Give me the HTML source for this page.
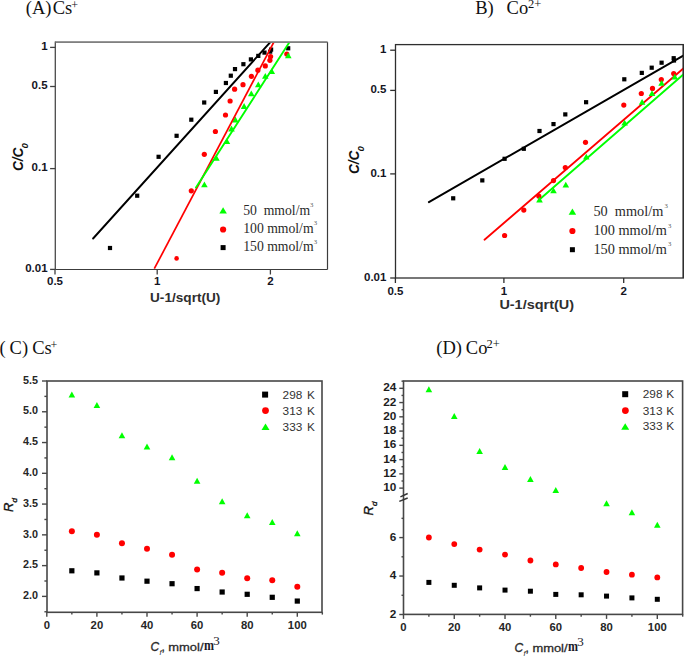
<!DOCTYPE html>
<html><head><meta charset="utf-8"><style>
html,body{margin:0;padding:0;background:#fff;}
body{width:685px;height:659px;overflow:hidden;}
svg{display:block;}
</style></head><body>
<svg width="685" height="659" viewBox="0 0 685 659">
<rect width="685" height="659" fill="#fff"/>
<line x1="55.30" y1="42.10" x2="327.50" y2="42.10" stroke="#6e6e6e" stroke-width="1.4"/>
<line x1="327.50" y1="42.10" x2="327.50" y2="269.50" stroke="#3c3c3c" stroke-width="1.2"/>
<line x1="55.30" y1="269.50" x2="327.50" y2="269.50" stroke="#3c3c3c" stroke-width="1.2"/>
<line x1="55.30" y1="41.50" x2="55.30" y2="270.10" stroke="#4a4a4a" stroke-width="1.3"/>
<line x1="50.10" y1="47.40" x2="55.30" y2="47.40" stroke="#404040" stroke-width="1.3"/>
<text x="47.60" y="50.00" font-family="Liberation Sans" font-size="11.5" font-weight="bold" font-style="normal" fill="#15151f" text-anchor="end" >1</text>
<line x1="50.10" y1="86.50" x2="55.30" y2="86.50" stroke="#404040" stroke-width="1.3"/>
<text x="47.60" y="89.10" font-family="Liberation Sans" font-size="11.5" font-weight="bold" font-style="normal" fill="#15151f" text-anchor="end" >0.5</text>
<line x1="50.10" y1="168.60" x2="55.30" y2="168.60" stroke="#404040" stroke-width="1.3"/>
<text x="47.60" y="171.20" font-family="Liberation Sans" font-size="11.5" font-weight="bold" font-style="normal" fill="#15151f" text-anchor="end" >0.1</text>
<line x1="50.10" y1="269.40" x2="55.30" y2="269.40" stroke="#404040" stroke-width="1.3"/>
<text x="47.60" y="272.00" font-family="Liberation Sans" font-size="11.5" font-weight="bold" font-style="normal" fill="#15151f" text-anchor="end" >0.01</text>
<line x1="55.00" y1="269.50" x2="55.00" y2="274.50" stroke="#404040" stroke-width="1.3"/>
<text x="55.00" y="285.40" font-family="Liberation Sans" font-size="11.5" font-weight="bold" font-style="normal" fill="#15151f" text-anchor="middle" >0.5</text>
<line x1="157.20" y1="269.50" x2="157.20" y2="274.50" stroke="#404040" stroke-width="1.3"/>
<text x="157.20" y="285.40" font-family="Liberation Sans" font-size="11.5" font-weight="bold" font-style="normal" fill="#15151f" text-anchor="middle" >1</text>
<line x1="270.40" y1="269.50" x2="270.40" y2="274.50" stroke="#404040" stroke-width="1.3"/>
<text x="270.40" y="285.40" font-family="Liberation Sans" font-size="11.5" font-weight="bold" font-style="normal" fill="#15151f" text-anchor="middle" >2</text>
<text x="150.00" y="302.00" font-family="Liberation Sans" font-size="13" font-weight="bold" font-style="normal" fill="#2e2e2e" text-anchor="start" textLength="70.4" lengthAdjust="spacingAndGlyphs" >U-1/sqrt(U)</text>
<g transform="translate(23.0,171) rotate(-90)"><text font-family="Liberation Sans" font-size="14.2" font-weight="bold" font-style="italic" fill="#111" textLength="23.4" lengthAdjust="spacingAndGlyphs">C/C</text><text x="22.5" y="4.6" font-family="Liberation Sans" font-size="9.5" font-weight="bold" font-style="italic" fill="#111">0</text></g>
<text x="25.80" y="14.00" font-family="Liberation Serif" font-size="18.5" font-weight="normal" font-style="normal" fill="#111" text-anchor="start" >(A)</text>
<text x="52.70" y="14.00" font-family="Liberation Serif" font-size="18.5" font-weight="normal" font-style="normal" fill="#111" text-anchor="start" >Cs</text>
<text x="71.20" y="9.00" font-family="Liberation Serif" font-size="12" font-weight="normal" font-style="normal" fill="#111" text-anchor="start" >+</text>
<rect x="107.90" y="245.90" width="4.20" height="4.20" fill="#000000"/>
<rect x="135.10" y="193.60" width="4.20" height="4.20" fill="#000000"/>
<rect x="156.50" y="154.70" width="4.20" height="4.20" fill="#000000"/>
<rect x="174.50" y="133.70" width="4.20" height="4.20" fill="#000000"/>
<rect x="189.20" y="117.60" width="4.20" height="4.20" fill="#000000"/>
<rect x="202.10" y="100.40" width="4.20" height="4.20" fill="#000000"/>
<rect x="213.80" y="89.80" width="4.20" height="4.20" fill="#000000"/>
<rect x="223.80" y="80.90" width="4.20" height="4.20" fill="#000000"/>
<rect x="228.70" y="73.60" width="4.20" height="4.20" fill="#000000"/>
<rect x="232.90" y="67.00" width="4.20" height="4.20" fill="#000000"/>
<rect x="241.30" y="62.10" width="4.20" height="4.20" fill="#000000"/>
<rect x="248.80" y="57.30" width="4.20" height="4.20" fill="#000000"/>
<rect x="256.20" y="53.80" width="4.20" height="4.20" fill="#000000"/>
<rect x="262.40" y="50.50" width="4.20" height="4.20" fill="#000000"/>
<rect x="268.10" y="49.50" width="4.20" height="4.20" fill="#000000"/>
<rect x="269.00" y="47.50" width="4.20" height="4.20" fill="#000000"/>
<rect x="286.10" y="46.20" width="4.20" height="4.20" fill="#000000"/>
<circle cx="176.60" cy="258.40" r="2.30" fill="#ff0000"/>
<circle cx="191.30" cy="190.80" r="2.60" fill="#ff0000"/>
<circle cx="204.30" cy="154.30" r="2.60" fill="#ff0000"/>
<circle cx="215.40" cy="131.50" r="2.60" fill="#ff0000"/>
<circle cx="225.50" cy="115.00" r="2.60" fill="#ff0000"/>
<circle cx="230.10" cy="101.00" r="2.60" fill="#ff0000"/>
<circle cx="234.60" cy="89.20" r="2.60" fill="#ff0000"/>
<circle cx="243.00" cy="84.70" r="2.60" fill="#ff0000"/>
<circle cx="251.40" cy="76.30" r="2.60" fill="#ff0000"/>
<circle cx="257.90" cy="70.20" r="2.60" fill="#ff0000"/>
<circle cx="265.30" cy="65.90" r="2.60" fill="#ff0000"/>
<circle cx="269.90" cy="60.30" r="2.60" fill="#ff0000"/>
<circle cx="270.60" cy="56.60" r="2.60" fill="#ff0000"/>
<circle cx="286.80" cy="54.00" r="2.60" fill="#ff0000"/>
<polygon points="204.40,181.40 201.10,187.20 207.70,187.20" fill="#00ff00"/>
<polygon points="216.40,155.00 213.10,160.80 219.70,160.80" fill="#00ff00"/>
<polygon points="226.90,138.20 223.60,144.00 230.20,144.00" fill="#00ff00"/>
<polygon points="231.50,125.60 228.20,131.40 234.80,131.40" fill="#00ff00"/>
<polygon points="235.40,116.60 232.10,122.40 238.70,122.40" fill="#00ff00"/>
<polygon points="244.10,103.10 240.80,108.90 247.40,108.90" fill="#00ff00"/>
<polygon points="251.30,90.50 248.00,96.30 254.60,96.30" fill="#00ff00"/>
<polygon points="258.30,81.50 255.00,87.30 261.60,87.30" fill="#00ff00"/>
<polygon points="265.30,73.00 262.00,78.80 268.60,78.80" fill="#00ff00"/>
<polygon points="271.80,68.20 268.50,74.00 275.10,74.00" fill="#00ff00"/>
<polygon points="288.30,52.40 285.00,58.20 291.60,58.20" fill="#00ff00"/>
<defs><clipPath id="ca"><rect x="55" y="42.6" width="272" height="226.6"/></clipPath></defs><g clip-path="url(#ca)">
<line x1="93.10" y1="238.50" x2="270.60" y2="41.80" stroke="#000000" stroke-width="1.9" stroke-linecap="round"/>
<line x1="154.30" y1="268.70" x2="274.00" y2="41.80" stroke="#ff0000" stroke-width="1.7"/>
<line x1="196.00" y1="187.40" x2="289.70" y2="41.80" stroke="#00ff00" stroke-width="1.9" stroke-linecap="round"/>
</g>
<line x1="55.30" y1="42.10" x2="327.50" y2="42.10" stroke="#7a7a7a" stroke-width="1.4"/>
<polygon points="223.10,207.30 219.35,213.50 226.85,213.50" fill="#00ff00"/>
<circle cx="223.10" cy="229.50" r="3.10" fill="#ff0000"/>
<rect x="220.60" y="245.10" width="5.00" height="5.00" fill="#000000"/>
<text x="243.20" y="214.60" font-family="Liberation Serif" font-size="13.7" font-weight="normal" font-style="normal" fill="#2a2a2a" text-anchor="start" >50&#160; mmol/m</text>
<text x="243.20" y="233.40" font-family="Liberation Serif" font-size="13.7" font-weight="normal" font-style="normal" fill="#2a2a2a" text-anchor="start" >100 mmol/m</text>
<text x="243.20" y="251.40" font-family="Liberation Serif" font-size="13.7" font-weight="normal" font-style="normal" fill="#2a2a2a" text-anchor="start" >150 mmol/m</text>
<text x="310.00" y="206.60" font-family="Liberation Serif" font-size="6.8" font-weight="normal" font-style="normal" fill="#555" text-anchor="start" >3</text>
<text x="313.80" y="225.30" font-family="Liberation Serif" font-size="6.8" font-weight="normal" font-style="normal" fill="#555" text-anchor="start" >3</text>
<text x="313.80" y="243.50" font-family="Liberation Serif" font-size="6.8" font-weight="normal" font-style="normal" fill="#555" text-anchor="start" >3</text>
<rect x="395.5" y="44.6" width="287.79999999999995" height="233.4" fill="none" stroke="#2e2e2e" stroke-width="1.3"/>
<line x1="390.20" y1="50.20" x2="395.50" y2="50.20" stroke="#2e2e2e" stroke-width="1.3"/>
<text x="386.40" y="53.10" font-family="Liberation Sans" font-size="11.5" font-weight="bold" font-style="normal" fill="#15151f" text-anchor="end" >1</text>
<line x1="390.20" y1="90.40" x2="395.50" y2="90.40" stroke="#2e2e2e" stroke-width="1.3"/>
<text x="386.40" y="93.30" font-family="Liberation Sans" font-size="11.5" font-weight="bold" font-style="normal" fill="#15151f" text-anchor="end" >0.5</text>
<line x1="390.20" y1="173.90" x2="395.50" y2="173.90" stroke="#2e2e2e" stroke-width="1.3"/>
<text x="386.40" y="176.80" font-family="Liberation Sans" font-size="11.5" font-weight="bold" font-style="normal" fill="#15151f" text-anchor="end" >0.1</text>
<line x1="390.20" y1="278.00" x2="395.50" y2="278.00" stroke="#2e2e2e" stroke-width="1.3"/>
<text x="386.40" y="280.90" font-family="Liberation Sans" font-size="11.5" font-weight="bold" font-style="normal" fill="#15151f" text-anchor="end" >0.01</text>
<line x1="395.40" y1="278.00" x2="395.40" y2="283.00" stroke="#2e2e2e" stroke-width="1.3"/>
<text x="395.40" y="294.50" font-family="Liberation Sans" font-size="11.5" font-weight="bold" font-style="normal" fill="#15151f" text-anchor="middle" >0.5</text>
<line x1="503.90" y1="278.00" x2="503.90" y2="283.00" stroke="#2e2e2e" stroke-width="1.3"/>
<text x="503.90" y="294.50" font-family="Liberation Sans" font-size="11.5" font-weight="bold" font-style="normal" fill="#15151f" text-anchor="middle" >1</text>
<line x1="623.70" y1="278.00" x2="623.70" y2="283.00" stroke="#2e2e2e" stroke-width="1.3"/>
<text x="623.70" y="294.50" font-family="Liberation Sans" font-size="11.5" font-weight="bold" font-style="normal" fill="#15151f" text-anchor="middle" >2</text>
<text x="499.40" y="309.40" font-family="Liberation Sans" font-size="13.2" font-weight="bold" font-style="normal" fill="#2e2e2e" text-anchor="start" textLength="74.6" lengthAdjust="spacingAndGlyphs" >U-1/sqrt(U)</text>
<g transform="translate(359.1,174) rotate(-90)"><text font-family="Liberation Sans" font-size="14.2" font-weight="bold" font-style="italic" fill="#111" textLength="23.4" lengthAdjust="spacingAndGlyphs">C/C</text><text x="22.5" y="4.6" font-family="Liberation Sans" font-size="9.5" font-weight="bold" font-style="italic" fill="#111">0</text></g>
<text x="475.20" y="14.00" font-family="Liberation Serif" font-size="18.5" font-weight="normal" font-style="normal" fill="#111" text-anchor="start" >B)</text>
<text x="506.60" y="14.00" font-family="Liberation Serif" font-size="18.5" font-weight="normal" font-style="normal" fill="#111" text-anchor="start" >Co</text>
<text x="527.90" y="7.90" font-family="Liberation Serif" font-size="12.5" font-weight="normal" font-style="normal" fill="#111" text-anchor="start" >2+</text>
<defs><clipPath id="cb"><rect x="395" y="44" width="288.3" height="234"/></clipPath></defs><g clip-path="url(#cb)">
<line x1="428.90" y1="202.10" x2="683.30" y2="55.70" stroke="#000000" stroke-width="2.0" stroke-linecap="round"/>
<line x1="484.50" y1="239.70" x2="683.30" y2="68.50" stroke="#ff0000" stroke-width="1.8" stroke-linecap="round"/>
<line x1="539.20" y1="199.80" x2="683.30" y2="74.50" stroke="#00ff00" stroke-width="1.9" stroke-linecap="round"/>
</g>
<rect x="451.10" y="196.20" width="4.20" height="4.20" fill="#000000"/>
<rect x="480.20" y="178.30" width="4.20" height="4.20" fill="#000000"/>
<rect x="502.50" y="156.70" width="4.20" height="4.20" fill="#000000"/>
<rect x="521.70" y="146.70" width="4.20" height="4.20" fill="#000000"/>
<rect x="537.40" y="128.90" width="4.20" height="4.20" fill="#000000"/>
<rect x="551.40" y="122.00" width="4.20" height="4.20" fill="#000000"/>
<rect x="563.20" y="112.30" width="4.20" height="4.20" fill="#000000"/>
<rect x="584.00" y="100.10" width="4.20" height="4.20" fill="#000000"/>
<rect x="622.20" y="77.20" width="4.20" height="4.20" fill="#000000"/>
<rect x="639.70" y="70.80" width="4.20" height="4.20" fill="#000000"/>
<rect x="649.60" y="65.60" width="4.20" height="4.20" fill="#000000"/>
<rect x="659.50" y="60.60" width="4.20" height="4.20" fill="#000000"/>
<rect x="671.60" y="56.10" width="4.20" height="4.20" fill="#000000"/>
<rect x="671.90" y="58.40" width="4.20" height="4.20" fill="#000000"/>
<circle cx="504.60" cy="235.50" r="2.60" fill="#ff0000"/>
<circle cx="523.80" cy="210.10" r="2.60" fill="#ff0000"/>
<circle cx="538.80" cy="196.10" r="2.60" fill="#ff0000"/>
<circle cx="553.50" cy="180.60" r="2.60" fill="#ff0000"/>
<circle cx="565.30" cy="167.50" r="2.60" fill="#ff0000"/>
<circle cx="585.50" cy="142.30" r="2.60" fill="#ff0000"/>
<circle cx="623.80" cy="105.10" r="2.60" fill="#ff0000"/>
<circle cx="641.30" cy="93.50" r="2.60" fill="#ff0000"/>
<circle cx="652.50" cy="88.40" r="2.60" fill="#ff0000"/>
<circle cx="661.30" cy="79.60" r="2.60" fill="#ff0000"/>
<circle cx="673.70" cy="73.60" r="2.60" fill="#ff0000"/>
<polygon points="539.50,196.60 536.20,202.40 542.80,202.40" fill="#00ff00"/>
<polygon points="553.50,187.50 550.20,193.30 556.80,193.30" fill="#00ff00"/>
<polygon points="565.80,181.70 562.50,187.50 569.10,187.50" fill="#00ff00"/>
<polygon points="586.30,153.80 583.00,159.60 589.60,159.60" fill="#00ff00"/>
<polygon points="624.60,119.70 621.30,125.50 627.90,125.50" fill="#00ff00"/>
<polygon points="642.10,99.00 638.80,104.80 645.40,104.80" fill="#00ff00"/>
<polygon points="652.00,90.30 648.70,96.10 655.30,96.10" fill="#00ff00"/>
<polygon points="661.60,79.90 658.30,85.70 664.90,85.70" fill="#00ff00"/>
<polygon points="674.80,73.80 671.50,79.60 678.10,79.60" fill="#00ff00"/>
<line x1="683.30" y1="44.60" x2="683.30" y2="278.00" stroke="#2e2e2e" stroke-width="1.3"/>
<polygon points="572.40,208.50 568.65,214.70 576.15,214.70" fill="#00ff00"/>
<circle cx="572.40" cy="231.00" r="3.10" fill="#ff0000"/>
<rect x="569.90" y="247.20" width="5.00" height="5.00" fill="#000000"/>
<text x="593.40" y="215.60" font-family="Liberation Serif" font-size="14.3" font-weight="normal" font-style="normal" fill="#2a2a2a" text-anchor="start" >50&#160; mmol/m</text>
<text x="593.40" y="235.20" font-family="Liberation Serif" font-size="14.3" font-weight="normal" font-style="normal" fill="#2a2a2a" text-anchor="start" >100 mmol/m</text>
<text x="593.40" y="253.60" font-family="Liberation Serif" font-size="14.3" font-weight="normal" font-style="normal" fill="#2a2a2a" text-anchor="start" >150 mmol/m</text>
<text x="664.40" y="207.80" font-family="Liberation Serif" font-size="6.8" font-weight="normal" font-style="normal" fill="#555" text-anchor="start" >3</text>
<text x="667.90" y="227.80" font-family="Liberation Serif" font-size="6.8" font-weight="normal" font-style="normal" fill="#555" text-anchor="start" >3</text>
<text x="667.90" y="245.90" font-family="Liberation Serif" font-size="6.8" font-weight="normal" font-style="normal" fill="#555" text-anchor="start" >3</text>
<rect x="47" y="381" width="275" height="231.29999999999995" fill="none" stroke="#474747" stroke-width="1.6"/>
<line x1="42.00" y1="381.00" x2="47.00" y2="381.00" stroke="#474747" stroke-width="1.4"/>
<text x="37.90" y="383.70" font-family="Liberation Sans" font-size="10.8" font-weight="bold" font-style="normal" fill="#262626" text-anchor="end" >5.5</text>
<line x1="44.40" y1="396.38" x2="47.00" y2="396.38" stroke="#474747" stroke-width="1.4"/>
<line x1="42.00" y1="411.77" x2="47.00" y2="411.77" stroke="#474747" stroke-width="1.4"/>
<text x="37.90" y="414.47" font-family="Liberation Sans" font-size="10.8" font-weight="bold" font-style="normal" fill="#262626" text-anchor="end" >5.0</text>
<line x1="44.40" y1="427.15" x2="47.00" y2="427.15" stroke="#474747" stroke-width="1.4"/>
<line x1="42.00" y1="442.54" x2="47.00" y2="442.54" stroke="#474747" stroke-width="1.4"/>
<text x="37.90" y="445.24" font-family="Liberation Sans" font-size="10.8" font-weight="bold" font-style="normal" fill="#262626" text-anchor="end" >4.5</text>
<line x1="44.40" y1="457.93" x2="47.00" y2="457.93" stroke="#474747" stroke-width="1.4"/>
<line x1="42.00" y1="473.31" x2="47.00" y2="473.31" stroke="#474747" stroke-width="1.4"/>
<text x="37.90" y="476.01" font-family="Liberation Sans" font-size="10.8" font-weight="bold" font-style="normal" fill="#262626" text-anchor="end" >4.0</text>
<line x1="44.40" y1="488.69" x2="47.00" y2="488.69" stroke="#474747" stroke-width="1.4"/>
<line x1="42.00" y1="504.08" x2="47.00" y2="504.08" stroke="#474747" stroke-width="1.4"/>
<text x="37.90" y="506.78" font-family="Liberation Sans" font-size="10.8" font-weight="bold" font-style="normal" fill="#262626" text-anchor="end" >3.5</text>
<line x1="44.40" y1="519.47" x2="47.00" y2="519.47" stroke="#474747" stroke-width="1.4"/>
<line x1="42.00" y1="534.85" x2="47.00" y2="534.85" stroke="#474747" stroke-width="1.4"/>
<text x="37.90" y="537.55" font-family="Liberation Sans" font-size="10.8" font-weight="bold" font-style="normal" fill="#262626" text-anchor="end" >3.0</text>
<line x1="44.40" y1="550.24" x2="47.00" y2="550.24" stroke="#474747" stroke-width="1.4"/>
<line x1="42.00" y1="565.62" x2="47.00" y2="565.62" stroke="#474747" stroke-width="1.4"/>
<text x="37.90" y="568.32" font-family="Liberation Sans" font-size="10.8" font-weight="bold" font-style="normal" fill="#262626" text-anchor="end" >2.5</text>
<line x1="44.40" y1="581.00" x2="47.00" y2="581.00" stroke="#474747" stroke-width="1.4"/>
<line x1="42.00" y1="596.39" x2="47.00" y2="596.39" stroke="#474747" stroke-width="1.4"/>
<text x="37.90" y="599.09" font-family="Liberation Sans" font-size="10.8" font-weight="bold" font-style="normal" fill="#262626" text-anchor="end" >2.0</text>
<line x1="44.40" y1="611.77" x2="47.00" y2="611.77" stroke="#474747" stroke-width="1.4"/>
<line x1="46.80" y1="612.30" x2="46.80" y2="616.80" stroke="#474747" stroke-width="1.4"/>
<text x="46.80" y="628.60" font-family="Liberation Sans" font-size="11.3" font-weight="bold" font-style="normal" fill="#262626" text-anchor="middle" >0</text>
<line x1="71.85" y1="612.30" x2="71.85" y2="614.60" stroke="#474747" stroke-width="1.4"/>
<line x1="96.90" y1="612.30" x2="96.90" y2="616.80" stroke="#474747" stroke-width="1.4"/>
<text x="96.90" y="628.60" font-family="Liberation Sans" font-size="11.3" font-weight="bold" font-style="normal" fill="#262626" text-anchor="middle" >20</text>
<line x1="121.95" y1="612.30" x2="121.95" y2="614.60" stroke="#474747" stroke-width="1.4"/>
<line x1="147.00" y1="612.30" x2="147.00" y2="616.80" stroke="#474747" stroke-width="1.4"/>
<text x="147.00" y="628.60" font-family="Liberation Sans" font-size="11.3" font-weight="bold" font-style="normal" fill="#262626" text-anchor="middle" >40</text>
<line x1="172.05" y1="612.30" x2="172.05" y2="614.60" stroke="#474747" stroke-width="1.4"/>
<line x1="197.10" y1="612.30" x2="197.10" y2="616.80" stroke="#474747" stroke-width="1.4"/>
<text x="197.10" y="628.60" font-family="Liberation Sans" font-size="11.3" font-weight="bold" font-style="normal" fill="#262626" text-anchor="middle" >60</text>
<line x1="222.15" y1="612.30" x2="222.15" y2="614.60" stroke="#474747" stroke-width="1.4"/>
<line x1="247.20" y1="612.30" x2="247.20" y2="616.80" stroke="#474747" stroke-width="1.4"/>
<text x="247.20" y="628.60" font-family="Liberation Sans" font-size="11.3" font-weight="bold" font-style="normal" fill="#262626" text-anchor="middle" >80</text>
<line x1="272.25" y1="612.30" x2="272.25" y2="614.60" stroke="#474747" stroke-width="1.4"/>
<line x1="297.30" y1="612.30" x2="297.30" y2="616.80" stroke="#474747" stroke-width="1.4"/>
<text x="297.30" y="628.60" font-family="Liberation Sans" font-size="11.3" font-weight="bold" font-style="normal" fill="#262626" text-anchor="middle" >100</text>
<line x1="322.35" y1="612.30" x2="322.35" y2="614.60" stroke="#474747" stroke-width="1.4"/>
<text x="150.50" y="651.20" font-family="Liberation Sans" font-size="12" font-weight="normal" font-style="italic" fill="#2a2a2a" text-anchor="start" stroke="#2a2a2a" stroke-width="0.3">C</text>
<text x="159.40" y="655.40" font-family="Liberation Sans" font-size="7.5" font-weight="normal" font-style="italic" fill="#2a2a2a" text-anchor="start" >f</text>
<text x="161.40" y="651.00" font-family="Liberation Sans" font-size="12" font-weight="normal" font-style="normal" fill="#2a2a2a" text-anchor="start" stroke="#2a2a2a" stroke-width="0.3">,</text>
<text x="168.30" y="651.30" font-family="Liberation Sans" font-size="11.6" font-weight="normal" font-style="normal" fill="#2a2a2a" text-anchor="start" textLength="35.2" lengthAdjust="spacingAndGlyphs" stroke="#2a2a2a" stroke-width="0.3">mmol/</text>
<text x="204.00" y="650.00" font-family="Liberation Serif" font-size="14" font-weight="bold" font-style="normal" fill="#1a1a2a" text-anchor="start" textLength="10.0" lengthAdjust="spacingAndGlyphs" >m</text>
<text x="213.20" y="645.00" font-family="Liberation Serif" font-size="13" font-weight="normal" font-style="normal" fill="#1a1a2a" text-anchor="start" >3</text>
<g transform="translate(13.2,512) rotate(-90)"><text font-family="Liberation Sans" font-size="13" font-style="italic" fill="#111" stroke="#111" stroke-width="0.35">R<tspan font-size="8" dy="4">d</tspan></text></g>
<text x="-0.50" y="353.80" font-family="Liberation Serif" font-size="18.5" font-weight="normal" font-style="normal" fill="#111" text-anchor="start" >(</text>
<text x="9.60" y="353.80" font-family="Liberation Serif" font-size="18.5" font-weight="normal" font-style="normal" fill="#111" text-anchor="start" >C)</text>
<text x="32.20" y="353.80" font-family="Liberation Serif" font-size="18.5" font-weight="normal" font-style="normal" fill="#111" text-anchor="start" >Cs</text>
<text x="50.60" y="349.00" font-family="Liberation Serif" font-size="12" font-weight="normal" font-style="normal" fill="#111" text-anchor="start" >+</text>
<rect x="69.25" y="568.19" width="5.20" height="5.20" fill="#000000"/>
<circle cx="71.85" cy="531.16" r="3.00" fill="#ff0000"/>
<polygon points="71.85,391.60 68.55,397.60 75.15,397.60" fill="#00ff00"/>
<rect x="94.30" y="570.28" width="5.20" height="5.20" fill="#000000"/>
<circle cx="96.90" cy="534.85" r="3.00" fill="#ff0000"/>
<polygon points="96.90,401.88 93.60,407.88 100.20,407.88" fill="#00ff00"/>
<rect x="119.35" y="575.39" width="5.20" height="5.20" fill="#000000"/>
<circle cx="121.95" cy="543.34" r="3.00" fill="#ff0000"/>
<polygon points="121.95,432.16 118.65,438.16 125.25,438.16" fill="#00ff00"/>
<rect x="144.40" y="578.59" width="5.20" height="5.20" fill="#000000"/>
<circle cx="147.00" cy="548.63" r="3.00" fill="#ff0000"/>
<polygon points="147.00,443.54 143.70,449.54 150.30,449.54" fill="#00ff00"/>
<rect x="169.45" y="581.11" width="5.20" height="5.20" fill="#000000"/>
<circle cx="172.05" cy="554.79" r="3.00" fill="#ff0000"/>
<polygon points="172.05,454.19 168.75,460.19 175.35,460.19" fill="#00ff00"/>
<rect x="194.50" y="585.97" width="5.20" height="5.20" fill="#000000"/>
<circle cx="197.10" cy="569.62" r="3.00" fill="#ff0000"/>
<polygon points="197.10,477.63 193.80,483.63 200.40,483.63" fill="#00ff00"/>
<rect x="219.55" y="589.42" width="5.20" height="5.20" fill="#000000"/>
<circle cx="222.15" cy="572.64" r="3.00" fill="#ff0000"/>
<polygon points="222.15,498.31 218.85,504.31 225.45,504.31" fill="#00ff00"/>
<rect x="244.60" y="591.70" width="5.20" height="5.20" fill="#000000"/>
<circle cx="247.20" cy="578.30" r="3.00" fill="#ff0000"/>
<polygon points="247.20,512.16 243.90,518.16 250.50,518.16" fill="#00ff00"/>
<rect x="269.65" y="594.71" width="5.20" height="5.20" fill="#000000"/>
<circle cx="272.25" cy="580.20" r="3.00" fill="#ff0000"/>
<polygon points="272.25,519.05 268.95,525.05 275.55,525.05" fill="#00ff00"/>
<rect x="294.70" y="598.47" width="5.20" height="5.20" fill="#000000"/>
<circle cx="297.30" cy="586.73" r="3.00" fill="#ff0000"/>
<polygon points="297.30,530.25 294.00,536.25 300.60,536.25" fill="#00ff00"/>
<rect x="262.10" y="391.60" width="6.00" height="6.00" fill="#000000"/>
<circle cx="265.50" cy="410.60" r="3.40" fill="#ff0000"/>
<polygon points="265.50,423.50 261.50,429.90 269.50,429.90" fill="#00ff00"/>
<text x="282.60" y="398.50" font-family="Liberation Sans" font-size="11.8" font-weight="normal" font-style="normal" fill="#333" text-anchor="start" word-spacing="1.5">298 K</text>
<text x="282.60" y="414.50" font-family="Liberation Sans" font-size="11.8" font-weight="normal" font-style="normal" fill="#333" text-anchor="start" word-spacing="1.5">313 K</text>
<text x="282.60" y="430.50" font-family="Liberation Sans" font-size="11.8" font-weight="normal" font-style="normal" fill="#333" text-anchor="start" word-spacing="1.5">333 K</text>
<rect x="403.5" y="381" width="279.1" height="233.39999999999998" fill="none" stroke="#474747" stroke-width="1.6"/>
<line x1="400.40" y1="496.90" x2="407.70" y2="493.50" stroke="#333" stroke-width="1.4"/>
<line x1="399.30" y1="501.40" x2="407.70" y2="498.00" stroke="#333" stroke-width="1.4"/>
<line x1="399.30" y1="488.12" x2="403.50" y2="488.12" stroke="#474747" stroke-width="1.4"/>
<text x="396.30" y="491.12" font-family="Liberation Sans" font-size="11.8" font-weight="bold" font-style="normal" fill="#1e1e1e" text-anchor="end" >10</text>
<line x1="401.50" y1="480.99" x2="403.50" y2="480.99" stroke="#474747" stroke-width="1.4"/>
<line x1="399.30" y1="473.86" x2="403.50" y2="473.86" stroke="#474747" stroke-width="1.4"/>
<text x="396.30" y="476.86" font-family="Liberation Sans" font-size="11.8" font-weight="bold" font-style="normal" fill="#1e1e1e" text-anchor="end" >12</text>
<line x1="401.50" y1="466.73" x2="403.50" y2="466.73" stroke="#474747" stroke-width="1.4"/>
<line x1="399.30" y1="459.60" x2="403.50" y2="459.60" stroke="#474747" stroke-width="1.4"/>
<text x="396.30" y="462.60" font-family="Liberation Sans" font-size="11.8" font-weight="bold" font-style="normal" fill="#1e1e1e" text-anchor="end" >14</text>
<line x1="401.50" y1="452.47" x2="403.50" y2="452.47" stroke="#474747" stroke-width="1.4"/>
<line x1="399.30" y1="445.34" x2="403.50" y2="445.34" stroke="#474747" stroke-width="1.4"/>
<text x="396.30" y="448.34" font-family="Liberation Sans" font-size="11.8" font-weight="bold" font-style="normal" fill="#1e1e1e" text-anchor="end" >16</text>
<line x1="401.50" y1="438.21" x2="403.50" y2="438.21" stroke="#474747" stroke-width="1.4"/>
<line x1="399.30" y1="431.08" x2="403.50" y2="431.08" stroke="#474747" stroke-width="1.4"/>
<text x="396.30" y="434.08" font-family="Liberation Sans" font-size="11.8" font-weight="bold" font-style="normal" fill="#1e1e1e" text-anchor="end" >18</text>
<line x1="401.50" y1="423.95" x2="403.50" y2="423.95" stroke="#474747" stroke-width="1.4"/>
<line x1="399.30" y1="416.82" x2="403.50" y2="416.82" stroke="#474747" stroke-width="1.4"/>
<text x="396.30" y="419.82" font-family="Liberation Sans" font-size="11.8" font-weight="bold" font-style="normal" fill="#1e1e1e" text-anchor="end" >20</text>
<line x1="401.50" y1="409.69" x2="403.50" y2="409.69" stroke="#474747" stroke-width="1.4"/>
<line x1="399.30" y1="402.56" x2="403.50" y2="402.56" stroke="#474747" stroke-width="1.4"/>
<text x="396.30" y="405.56" font-family="Liberation Sans" font-size="11.8" font-weight="bold" font-style="normal" fill="#1e1e1e" text-anchor="end" >22</text>
<line x1="401.50" y1="395.43" x2="403.50" y2="395.43" stroke="#474747" stroke-width="1.4"/>
<line x1="399.30" y1="388.30" x2="403.50" y2="388.30" stroke="#474747" stroke-width="1.4"/>
<text x="396.30" y="391.30" font-family="Liberation Sans" font-size="11.8" font-weight="bold" font-style="normal" fill="#1e1e1e" text-anchor="end" >24</text>
<line x1="401.50" y1="381.17" x2="403.50" y2="381.17" stroke="#474747" stroke-width="1.4"/>
<line x1="399.30" y1="614.50" x2="403.50" y2="614.50" stroke="#474747" stroke-width="1.4"/>
<text x="396.30" y="617.50" font-family="Liberation Sans" font-size="11.8" font-weight="bold" font-style="normal" fill="#1e1e1e" text-anchor="end" >2</text>
<line x1="401.50" y1="595.27" x2="403.50" y2="595.27" stroke="#474747" stroke-width="1.4"/>
<line x1="399.30" y1="576.04" x2="403.50" y2="576.04" stroke="#474747" stroke-width="1.4"/>
<text x="396.30" y="579.04" font-family="Liberation Sans" font-size="11.8" font-weight="bold" font-style="normal" fill="#1e1e1e" text-anchor="end" >4</text>
<line x1="401.50" y1="556.81" x2="403.50" y2="556.81" stroke="#474747" stroke-width="1.4"/>
<line x1="399.30" y1="537.58" x2="403.50" y2="537.58" stroke="#474747" stroke-width="1.4"/>
<text x="396.30" y="540.58" font-family="Liberation Sans" font-size="11.8" font-weight="bold" font-style="normal" fill="#1e1e1e" text-anchor="end" >6</text>
<line x1="401.50" y1="518.35" x2="403.50" y2="518.35" stroke="#474747" stroke-width="1.4"/>
<line x1="403.50" y1="614.40" x2="403.50" y2="618.90" stroke="#474747" stroke-width="1.4"/>
<text x="403.50" y="630.60" font-family="Liberation Sans" font-size="11.3" font-weight="bold" font-style="normal" fill="#262626" text-anchor="middle" >0</text>
<line x1="428.88" y1="614.40" x2="428.88" y2="616.70" stroke="#474747" stroke-width="1.4"/>
<line x1="454.26" y1="614.40" x2="454.26" y2="618.90" stroke="#474747" stroke-width="1.4"/>
<text x="454.26" y="630.60" font-family="Liberation Sans" font-size="11.3" font-weight="bold" font-style="normal" fill="#262626" text-anchor="middle" >20</text>
<line x1="479.64" y1="614.40" x2="479.64" y2="616.70" stroke="#474747" stroke-width="1.4"/>
<line x1="505.02" y1="614.40" x2="505.02" y2="618.90" stroke="#474747" stroke-width="1.4"/>
<text x="505.02" y="630.60" font-family="Liberation Sans" font-size="11.3" font-weight="bold" font-style="normal" fill="#262626" text-anchor="middle" >40</text>
<line x1="530.40" y1="614.40" x2="530.40" y2="616.70" stroke="#474747" stroke-width="1.4"/>
<line x1="555.78" y1="614.40" x2="555.78" y2="618.90" stroke="#474747" stroke-width="1.4"/>
<text x="555.78" y="630.60" font-family="Liberation Sans" font-size="11.3" font-weight="bold" font-style="normal" fill="#262626" text-anchor="middle" >60</text>
<line x1="581.16" y1="614.40" x2="581.16" y2="616.70" stroke="#474747" stroke-width="1.4"/>
<line x1="606.54" y1="614.40" x2="606.54" y2="618.90" stroke="#474747" stroke-width="1.4"/>
<text x="606.54" y="630.60" font-family="Liberation Sans" font-size="11.3" font-weight="bold" font-style="normal" fill="#262626" text-anchor="middle" >80</text>
<line x1="631.92" y1="614.40" x2="631.92" y2="616.70" stroke="#474747" stroke-width="1.4"/>
<line x1="657.30" y1="614.40" x2="657.30" y2="618.90" stroke="#474747" stroke-width="1.4"/>
<text x="657.30" y="630.60" font-family="Liberation Sans" font-size="11.3" font-weight="bold" font-style="normal" fill="#262626" text-anchor="middle" >100</text>
<line x1="682.68" y1="614.40" x2="682.68" y2="616.70" stroke="#474747" stroke-width="1.4"/>
<text x="514.60" y="651.70" font-family="Liberation Sans" font-size="12" font-weight="normal" font-style="italic" fill="#2a2a2a" text-anchor="start" stroke="#2a2a2a" stroke-width="0.3">C</text>
<text x="523.50" y="655.90" font-family="Liberation Sans" font-size="7.5" font-weight="normal" font-style="italic" fill="#2a2a2a" text-anchor="start" >f</text>
<text x="525.50" y="651.50" font-family="Liberation Sans" font-size="12" font-weight="normal" font-style="normal" fill="#2a2a2a" text-anchor="start" stroke="#2a2a2a" stroke-width="0.3">,</text>
<text x="532.40" y="651.80" font-family="Liberation Sans" font-size="11.6" font-weight="normal" font-style="normal" fill="#2a2a2a" text-anchor="start" textLength="35.2" lengthAdjust="spacingAndGlyphs" stroke="#2a2a2a" stroke-width="0.3">mmol/</text>
<text x="568.10" y="650.50" font-family="Liberation Serif" font-size="14" font-weight="bold" font-style="normal" fill="#1a1a2a" text-anchor="start" textLength="10.0" lengthAdjust="spacingAndGlyphs" >m</text>
<text x="577.30" y="645.50" font-family="Liberation Serif" font-size="13" font-weight="normal" font-style="normal" fill="#1a1a2a" text-anchor="start" >3</text>
<g transform="translate(372.5,515.5) rotate(-90)"><text font-family="Liberation Sans" font-size="13" font-style="italic" fill="#111" stroke="#111" stroke-width="0.35">R<tspan font-size="8" dy="4">d</tspan></text></g>
<text x="436.30" y="353.80" font-family="Liberation Serif" font-size="18.5" font-weight="normal" font-style="normal" fill="#111" text-anchor="start" >(D)</text>
<text x="465.80" y="353.80" font-family="Liberation Serif" font-size="18.5" font-weight="normal" font-style="normal" fill="#111" text-anchor="start" >Co</text>
<text x="486.60" y="347.90" font-family="Liberation Serif" font-size="12.5" font-weight="normal" font-style="normal" fill="#111" text-anchor="start" >2+</text>
<rect x="426.38" y="579.90" width="5.00" height="5.00" fill="#000000"/>
<rect x="451.76" y="582.80" width="5.00" height="5.00" fill="#000000"/>
<rect x="477.14" y="585.40" width="5.00" height="5.00" fill="#000000"/>
<rect x="502.52" y="587.60" width="5.00" height="5.00" fill="#000000"/>
<rect x="527.90" y="588.70" width="5.00" height="5.00" fill="#000000"/>
<rect x="553.28" y="591.90" width="5.00" height="5.00" fill="#000000"/>
<rect x="578.66" y="592.30" width="5.00" height="5.00" fill="#000000"/>
<rect x="604.04" y="593.60" width="5.00" height="5.00" fill="#000000"/>
<rect x="629.42" y="595.40" width="5.00" height="5.00" fill="#000000"/>
<rect x="654.80" y="596.80" width="5.00" height="5.00" fill="#000000"/>
<circle cx="428.88" cy="537.50" r="2.90" fill="#ff0000"/>
<circle cx="454.26" cy="544.10" r="2.90" fill="#ff0000"/>
<circle cx="479.64" cy="549.60" r="2.90" fill="#ff0000"/>
<circle cx="505.02" cy="554.60" r="2.90" fill="#ff0000"/>
<circle cx="530.40" cy="560.50" r="2.90" fill="#ff0000"/>
<circle cx="555.78" cy="564.40" r="2.90" fill="#ff0000"/>
<circle cx="581.16" cy="568.00" r="2.90" fill="#ff0000"/>
<circle cx="606.54" cy="572.00" r="2.90" fill="#ff0000"/>
<circle cx="631.92" cy="574.70" r="2.90" fill="#ff0000"/>
<circle cx="657.30" cy="577.40" r="2.90" fill="#ff0000"/>
<polygon points="428.88,386.20 425.58,392.20 432.18,392.20" fill="#00ff00"/>
<polygon points="454.26,412.90 450.96,418.90 457.56,418.90" fill="#00ff00"/>
<polygon points="479.64,447.90 476.34,453.90 482.94,453.90" fill="#00ff00"/>
<polygon points="505.02,464.10 501.72,470.10 508.32,470.10" fill="#00ff00"/>
<polygon points="530.40,476.00 527.10,482.00 533.70,482.00" fill="#00ff00"/>
<polygon points="555.78,487.10 552.48,493.10 559.08,493.10" fill="#00ff00"/>
<polygon points="606.54,500.30 603.24,506.30 609.84,506.30" fill="#00ff00"/>
<polygon points="631.92,509.20 628.62,515.20 635.22,515.20" fill="#00ff00"/>
<polygon points="657.30,521.70 654.00,527.70 660.60,527.70" fill="#00ff00"/>
<rect x="622.20" y="391.20" width="6.00" height="6.00" fill="#000000"/>
<circle cx="625.40" cy="410.60" r="3.40" fill="#ff0000"/>
<polygon points="625.20,423.30 621.20,429.70 629.20,429.70" fill="#00ff00"/>
<text x="642.80" y="398.30" font-family="Liberation Sans" font-size="11.8" font-weight="normal" font-style="normal" fill="#333" text-anchor="start" word-spacing="0.5">298 K</text>
<text x="642.80" y="414.50" font-family="Liberation Sans" font-size="11.8" font-weight="normal" font-style="normal" fill="#333" text-anchor="start" word-spacing="0.5">313 K</text>
<text x="642.80" y="430.20" font-family="Liberation Sans" font-size="11.8" font-weight="normal" font-style="normal" fill="#333" text-anchor="start" word-spacing="0.5">333 K</text>
</svg>
</body></html>
